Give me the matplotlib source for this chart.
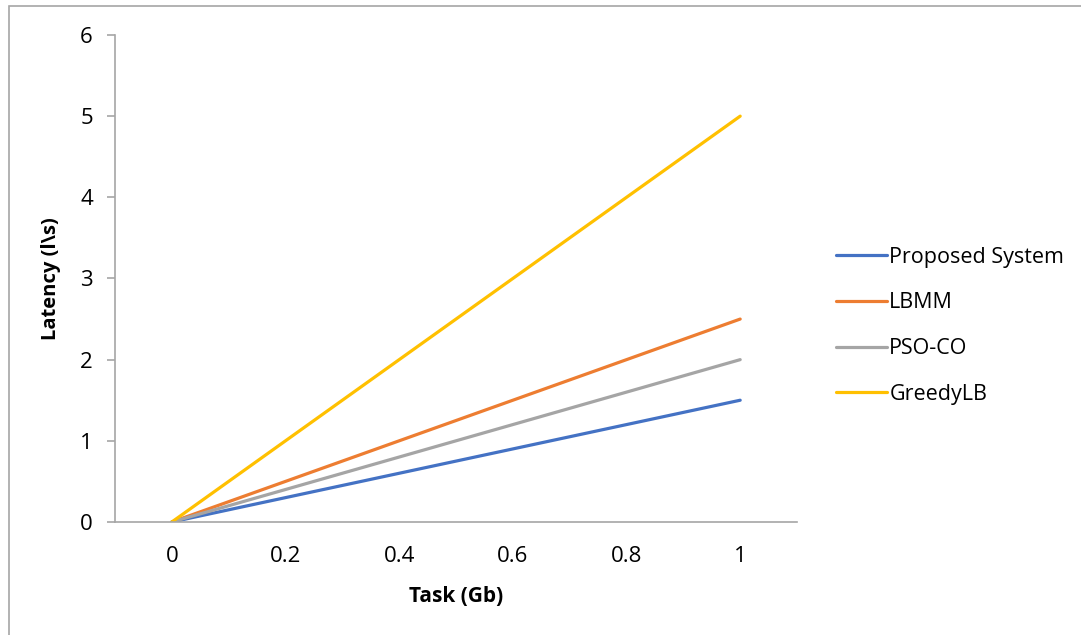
import matplotlib.pyplot as plt
from matplotlib.patches import Rectangle

plt.rcParams['font.family'] = ['Open Sans', 'DejaVu Sans']

task = [0, 1]
proposed = [0, 1.5]
lbmm = [0, 2.5]
pso_co = [0, 2]
greedy = [0, 5]

series = [
    ("Proposed System", proposed, "#4472C4"),
    ("LBMM", lbmm, "#ED7D31"),
    ("PSO-CO", pso_co, "#A5A5A5"),
    ("GreedyLB", greedy, "#FFC000"),
]

fig = plt.figure(figsize=(10.81, 6.35), dpi=100)
ax = fig.add_axes([0.1064, 0.178, 0.6309, 0.7669])

for name, vals, col in series:
    ax.plot(task, vals, color=col, linewidth=2.3, label=name, solid_capstyle='round')

ax.set_xlim(-0.1, 1.1)
ax.set_ylim(0, 6)
ax.set_xticks([0, 0.2, 0.4, 0.6, 0.8, 1])
ax.set_xticklabels(["0", "0.2", "0.4", "0.6", "0.8", "1"])
ax.set_yticks(range(0, 7))

for s in ['top', 'right']:
    ax.spines[s].set_visible(False)
for s in ['left', 'bottom']:
    ax.spines[s].set_color('#A6A6A6')
    ax.spines[s].set_linewidth(1.2)

ax.tick_params(axis='x', length=0, pad=17, labelsize=16)
ax.tick_params(axis='y', length=6, width=1.2, color='#A6A6A6', pad=10, labelsize=16)

ax.set_xlabel("Task (Gb)", fontsize=15, fontweight='bold', labelpad=14)
ax.set_ylabel("Latency (l\\s)", fontsize=14.5, fontweight='bold', labelpad=14)

ax.legend(loc='center left', bbox_to_anchor=(0.755, 0.487), bbox_transform=fig.transFigure,
          frameon=False, fontsize=15.5, handlelength=2.4, handletextpad=0.1, labelspacing=1.15)

fig.patches.append(Rectangle((9 / 1081, -0.1), 1.2, 1 - 6 / 635 + 0.1, transform=fig.transFigure,
                             fill=False, edgecolor='#A6A6A6', linewidth=1.2))

fig.savefig("out.png", dpi=100)
